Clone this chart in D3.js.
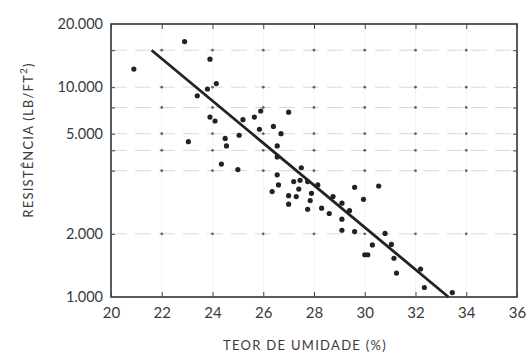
<!DOCTYPE html>
<html><head><meta charset="utf-8">
<script src="https://cdn.jsdelivr.net/npm/d3@7"></script>
<style>
body{margin:0;background:#fff;}
svg{display:block;}
text{font-family:Lato,"Open Sans",sans-serif;fill:#3a3a3a;}
</style></head>
<body><svg id="c" width="528" height="354"></svg>
<script>
const moisture = [20.9,22.9,23.9,24.15,23.8,23.4,23.9,24.1,23.05,24.5,24.55,25.05,25.2,25.65,25.9,27.0,25.85,26.4,26.7,26.55,26.55,24.35,25.0,27.5,26.55,26.6,26.35,27.0,27.0,27.2,27.45,27.4,27.3,27.9,27.85,27.75,27.75,28.15,28.3,28.6,28.75,29.1,29.1,29.1,29.6,29.6,29.4,29.95,30.55,30.8,30.3,30.0,30.12,31.05,31.15,31.25,32.2,32.35,33.45];
const strength = [12200,16500,13600,10400,9800,9100,7200,6900,5500,5700,5250,5900,7000,7200,7700,7600,6300,6500,6000,5250,4650,4300,4050,4130,3820,3420,3180,3040,2770,3550,3600,3270,3010,3120,2880,2620,3550,3420,2650,2500,3010,2800,2350,2080,2050,3330,2580,2920,3380,2010,1770,1590,1590,1780,1530,1300,1360,1110,1050];
const fitX = [21.6, 33.3];
const fitY = [15000, 1000];
const xTicks = [20,22,24,26,28,30,32,34,36];
const yTicks = [1000,2000,5000,10000,20000];
const yTickLabels = ["1.000","2.000","5.000","10.000","20.000"];
const yGrid = [2000,4000,5000,6000,8000,10000,15000];

const L=111,R=517,T=24,B=297;
const svg=d3.select("#c");
const x=d3.scaleLinear().domain([20,36]).range([L,R]);
const y=d3.scaleLog().domain([1000,20000]).range([B,T]);

// vertical faint grid
svg.append("g").selectAll("line").data(xTicks.slice(1,-1)).join("line")
 .attr("x1",d=>x(d)).attr("x2",d=>x(d)).attr("y1",T).attr("y2",B)
 .attr("stroke","#f0f0f0").attr("stroke-width",0.8);
// horizontal dashed grid
svg.append("g").selectAll("line").data(yGrid).join("line")
 .attr("x1",L).attr("x2",R).attr("y1",d=>y(d)).attr("y2",d=>y(d))
 .attr("stroke","#d9d9d9").attr("stroke-width",1).attr("stroke-dasharray","16,8");
// dots at intersections
const inter=[];
yGrid.forEach(v=>xTicks.slice(1,-1).forEach(u=>inter.push([u,v])));
svg.append("g").selectAll("circle").data(inter).join("circle")
 .attr("cx",d=>x(d[0])).attr("cy",d=>y(d[1])).attr("r",1.4).attr("fill","#666");

// frame
svg.append("rect").attr("x",L).attr("y",T).attr("width",R-L).attr("height",B-T)
 .attr("fill","none").attr("stroke","#333").attr("stroke-width",1.6);

// axes
const xb=d3.axisBottom(x).tickValues(xTicks).tickSize(-5).tickPadding(10).tickFormat(d3.format("d"));
const gx=svg.append("g").attr("transform",`translate(0,${B})`).call(xb);
const xt=d3.axisTop(x).tickValues(xTicks).tickSize(-5).tickFormat("");
const gxt=svg.append("g").attr("transform",`translate(0,${T})`).call(xt);
const yl=d3.axisLeft(y).tickValues(yTicks).tickSize(0).tickPadding(8).tickFormat((d,i)=>yTickLabels[i]);
const gy=svg.append("g").attr("transform",`translate(${L},0)`).call(yl);
const ygl=d3.axisLeft(y).tickValues(yGrid).tickSize(-4).tickFormat("");
const gyl=svg.append("g").attr("transform",`translate(${L},0)`).call(ygl);
const ygr=d3.axisRight(y).tickValues(yGrid).tickSize(-4).tickFormat("");
const gyr=svg.append("g").attr("transform",`translate(${R},0)`).call(ygr);
[gx,gxt,gy,gyl,gyr].forEach(g=>{g.select(".domain").remove();g.selectAll("line").attr("stroke","#444");});
gx.selectAll("text").attr("font-size",15).attr("fill","#333").style("font-family","Lato");
gy.selectAll("text").attr("font-size",14.5).attr("fill","#444").style("font-family","Lato")
  .attr("dy",(d)=> d===5000 ? "-0.8em" : "0.32em");

// fit line
svg.append("line").attr("x1",x(fitX[0])).attr("y1",y(fitY[0])).attr("x2",x(fitX[1])).attr("y2",y(fitY[1]))
 .attr("stroke","#222").attr("stroke-width",2.8);

// points
svg.append("g").selectAll("circle").data(moisture.map((m,i)=>[m,strength[i]])).join("circle")
 .attr("cx",d=>x(d[0])).attr("cy",d=>y(d[1])).attr("r",2.6).attr("fill","#222");

// titles
svg.append("text").attr("x",(L+R)/2-9).attr("y",350).attr("text-anchor","middle")
 .attr("font-size",13).attr("letter-spacing","1.3px").attr("fill","#444").text("TEOR DE UMIDADE (%)");
svg.append("text").attr("transform","translate(33,140) rotate(-90)").attr("text-anchor","middle")
 .attr("font-size",13).attr("letter-spacing","1.2px").attr("fill","#444")
 .html('RESISTÊNCIA (LB/FT<tspan dy="-6" font-size="10">2</tspan><tspan dy="6">)</tspan>');
</script></body></html>
